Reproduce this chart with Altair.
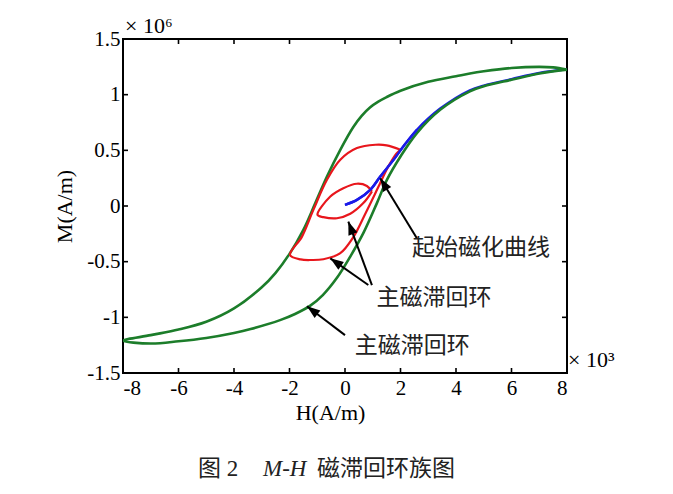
import math
import altair as alt
import pandas as pd

# ---------------- data (H in 1e3 A/m, M in 1e6 A/m) ----------------
H_MAJOR_DOWN = [8, 7.5, 7, 6, 5, 4.5, 4, 3, 2, 1.5, 1.2, 0.9, 0.6, 0.3, -0.17, -0.65, -1.07, -1.5,
                -2, -2.5, -3, -4, -5, -6, -7, -8]
M_MAJOR_DOWN = [1.225, 1.245, 1.25, 1.24, 1.21, 1.19, 1.165, 1.115, 1.035, 0.978, 0.937, 0.885,
                0.81, 0.71, 0.505, 0.265, 0.026, -0.214, -0.43, -0.6, -0.73, -0.92, -1.04, -1.11,
                -1.16, -1.21]
H_MAJOR_UP = [-8, -7, -6, -5, -4, -3.4, -2.34, -1.8, -1.25, -0.8, -0.29, 0.19, 0.66, 1.15, 1.51,
              2.0, 2.59, 3.43, 4.5, 5, 6, 7, 8]
M_MAJOR_UP = [-1.21, -1.235, -1.215, -1.185, -1.14, -1.105, -1.025, -0.97, -0.895, -0.8, -0.645,
              -0.454, -0.244, 0.026, 0.235, 0.445, 0.655, 0.864, 1.03, 1.075, 1.134, 1.19, 1.225]

H_OUTER_DOWN = [2.0, 1.5, 1.1, 0.43, -0.17, -0.65, -1.14, -1.55, -1.98]
M_OUTER_DOWN = [0.505, 0.545, 0.55, 0.52, 0.415, 0.235, -0.035, -0.275, -0.44]
H_OUTER_UP = [-1.98, -1.6, -1.2, -0.78, -0.17, 0.3, 0.75, 1.2, 1.55, 1.85, 2.0]
M_OUTER_UP = [-0.44, -0.48, -0.485, -0.478, -0.424, -0.28, -0.06, 0.17, 0.35, 0.47, 0.505]

H_INNER_DOWN = [0.97, 0.79, 0.43, -0.06, -0.53, -0.99]
M_INNER_DOWN = [0.13, 0.18, 0.2, 0.16, 0.085, -0.08]
H_INNER_UP = [-0.99, -0.78, -0.29, 0.19, 0.66, 0.97]
M_INNER_UP = [-0.08, -0.1, -0.11, -0.07, 0.026, 0.13]

H_INITIAL = [0, 0.43, 0.91, 1.27, 1.75, 2.1, 2.59, 3.43, 4.5, 5, 6, 7, 8]
M_INITIAL = [0.01, 0.055, 0.145, 0.265, 0.415, 0.535, 0.685, 0.875, 1.04, 1.082, 1.14, 1.195, 1.228]

X_TICKS = [-8, -6, -4, -2, 0, 2, 4, 6, 8]
Y_TICKS = [-1.5, -1, -0.5, 0, 0.5, 1, 1.5]

ARROW_TAIL_H = [2.59, 0.97, 0.84, 0.0]
ARROW_TAIL_M = [-0.29, -0.71, -0.71, -1.16]
ARROW_HEAD_H = [1.27, 0.12, -0.53, -1.37]
ARROW_HEAD_M = [0.25, -0.14, -0.47, -0.90]

LABEL_TEXT = ["起始磁化曲线", "主磁滞回环", "主磁滞回环"]
LABEL_H = [4.9, 3.21, 2.42]
LABEL_M = [-0.375, -0.826, -1.258]

# ---------------- layout / style ----------------
W, HGT = 444, 334
XD, YD = [-8, 8], [-1.5, 1.5]
GREEN, RED, BLUE = "#1c7d2a", "#e8161c", "#1a1ae8"
NUM_FONT = "Liberation Serif"
CJK_FONT = "Liberation Serif, Noto Sans CJK SC"

xs = alt.Scale(domain=XD, nice=False, zero=False)
ys = alt.Scale(domain=YD, nice=False, zero=False)


def loop_df(hs, ms):
    return pd.DataFrame({"H": hs, "M": ms, "i": list(range(len(hs)))})


green_df = loop_df(H_MAJOR_DOWN + H_MAJOR_UP[1:], M_MAJOR_DOWN + M_MAJOR_UP[1:])
outer_df = loop_df(H_OUTER_DOWN + H_OUTER_UP[1:], M_OUTER_DOWN + M_OUTER_UP[1:])
outer_df["c"] = "outer"
inner_df = loop_df(H_INNER_DOWN + H_INNER_UP[1:], M_INNER_DOWN + M_INNER_UP[1:])
inner_df["c"] = "inner"
red_df = pd.concat([outer_df, inner_df], ignore_index=True)
blue_df = loop_df(H_INITIAL, M_INITIAL)

x_axis = alt.Axis(values=X_TICKS, labelExpr="datum.value + ''", title="H(A/m)",
                  titleX=207, titleY=39, titleBaseline="middle", titleAlign="center",
                  titleFont=NUM_FONT, titleFontSize=22, titleFontWeight="normal",
                  labelPadding=4)
y_axis = alt.Axis(values=Y_TICKS, labelExpr="datum.value + ''", title="M(A/m)",
                  titleX=-59, titleY=167, titleAngle=270, titleBaseline="middle",
                  titleAlign="center", titleFont=NUM_FONT, titleFontSize=22,
                  titleFontWeight="normal", labelPadding=3)


def line(df, color, width, **kw):
    enc = dict(x=alt.X("H:Q", scale=xs, axis=x_axis), y=alt.Y("M:Q", scale=ys, axis=y_axis),
               order="i:Q")
    enc.update(kw)
    return alt.Chart(df).mark_line(color=color, strokeWidth=width, interpolate="catmull-rom",
                                   clip=True).encode(**enc)


blue_all = line(blue_df, BLUE, 2.4)
green = line(green_df, GREEN, 2.6)
red = line(red_df, RED, 2.2, detail="c:N")
blue_top = line(blue_df, BLUE, 2.4).transform_filter("datum.H <= 2.6")

# inward ticks on all four sides
xt = pd.DataFrame({"v": X_TICKS[1:-1]})
yt = pd.DataFrame({"v": Y_TICKS[1:-1]})
tick_style = dict(color="black", strokeWidth=1.6)
ticks = [
    alt.Chart(xt).mark_rule(**tick_style).encode(x=alt.X("v:Q", scale=xs), y=alt.value(HGT), y2=alt.value(HGT - 5)),
    alt.Chart(xt).mark_rule(**tick_style).encode(x=alt.X("v:Q", scale=xs), y=alt.value(0), y2=alt.value(5)),
    alt.Chart(yt).mark_rule(**tick_style).encode(y=alt.Y("v:Q", scale=ys), x=alt.value(0), x2=alt.value(5)),
    alt.Chart(yt).mark_rule(**tick_style).encode(y=alt.Y("v:Q", scale=ys), x=alt.value(W), x2=alt.value(W - 5)),
]

# arrows
sx, sy = W / (XD[1] - XD[0]), HGT / (YD[1] - YD[0])
angles = []
for th, tm, hh, hm in zip(ARROW_TAIL_H, ARROW_TAIL_M, ARROW_HEAD_H, ARROW_HEAD_M):
    dx = (hh - th) * sx
    dy = -(hm - tm) * sy
    angles.append(math.degrees(math.atan2(dx, -dy)) % 360)
arrow_df = pd.DataFrame({"th": ARROW_TAIL_H, "tm": ARROW_TAIL_M, "hh": ARROW_HEAD_H,
                         "hm": ARROW_HEAD_M, "ang": angles})
arrow_lines = alt.Chart(arrow_df).mark_rule(color="black", strokeWidth=2).encode(
    x=alt.X("th:Q", scale=xs), y=alt.Y("tm:Q", scale=ys), x2="hh:Q", y2="hm:Q")
arrow_heads = alt.Chart(arrow_df).mark_point(
    shape="M0,0L-0.36,1L0.36,1Z", filled=True, color="black", opacity=1, size=700
).encode(x=alt.X("hh:Q", scale=xs), y=alt.Y("hm:Q", scale=ys), angle=alt.Angle("ang:Q", scale=None))

label_df = pd.DataFrame({"t": LABEL_TEXT, "H": LABEL_H, "M": LABEL_M})
labels = alt.Chart(label_df).mark_text(font=CJK_FONT, fontSize=23, color="#222222",
                                       align="center", baseline="middle").encode(
    x=alt.X("H:Q", scale=xs), y=alt.Y("M:Q", scale=ys), text="t:N")

# exponent labels and caption
EXP_TEXT = ["× 10⁶", "× 10³"]
CAPTION_PARTS = ["图 2", "M-H", "磁滞回环族图"]


def free_text(t, x, y, size=21, style="normal", font=NUM_FONT, color="black"):
    return alt.Chart(pd.DataFrame({"t": [t]})).mark_text(
        font=font, fontSize=size, fontStyle=style, color=color, align="left", baseline="middle"
    ).encode(text="t:N", x=alt.value(x), y=alt.value(y))


extras = [
    free_text(EXP_TEXT[0], 2, -13, size=22),
    free_text(EXP_TEXT[1], 445, 321, size=22),
    free_text(CAPTION_PARTS[0], 75, 430, size=23, font=CJK_FONT, color="#222222"),
    free_text(CAPTION_PARTS[1], 140, 430, size=23, style="italic", color="#222222"),
    free_text(CAPTION_PARTS[2], 194, 430, size=23, font=CJK_FONT, color="#222222"),
]

chart = alt.layer(
    blue_all, green, red, blue_top, *ticks, arrow_lines, arrow_heads, labels, *extras
).properties(
    width=W, height=HGT,
    autosize=alt.AutoSizeParams(type="none"),
    padding={"left": 115, "top": 31, "right": 98, "bottom": 113},
).configure_view(
    stroke="black", strokeWidth=2
).configure_axis(
    domain=False, ticks=False, grid=False,
    labelFont=NUM_FONT, labelFontSize=21, labelColor="black", titleColor="black",
)

chart.save("out.html", embed_options={"renderer": "svg", "actions": False})
